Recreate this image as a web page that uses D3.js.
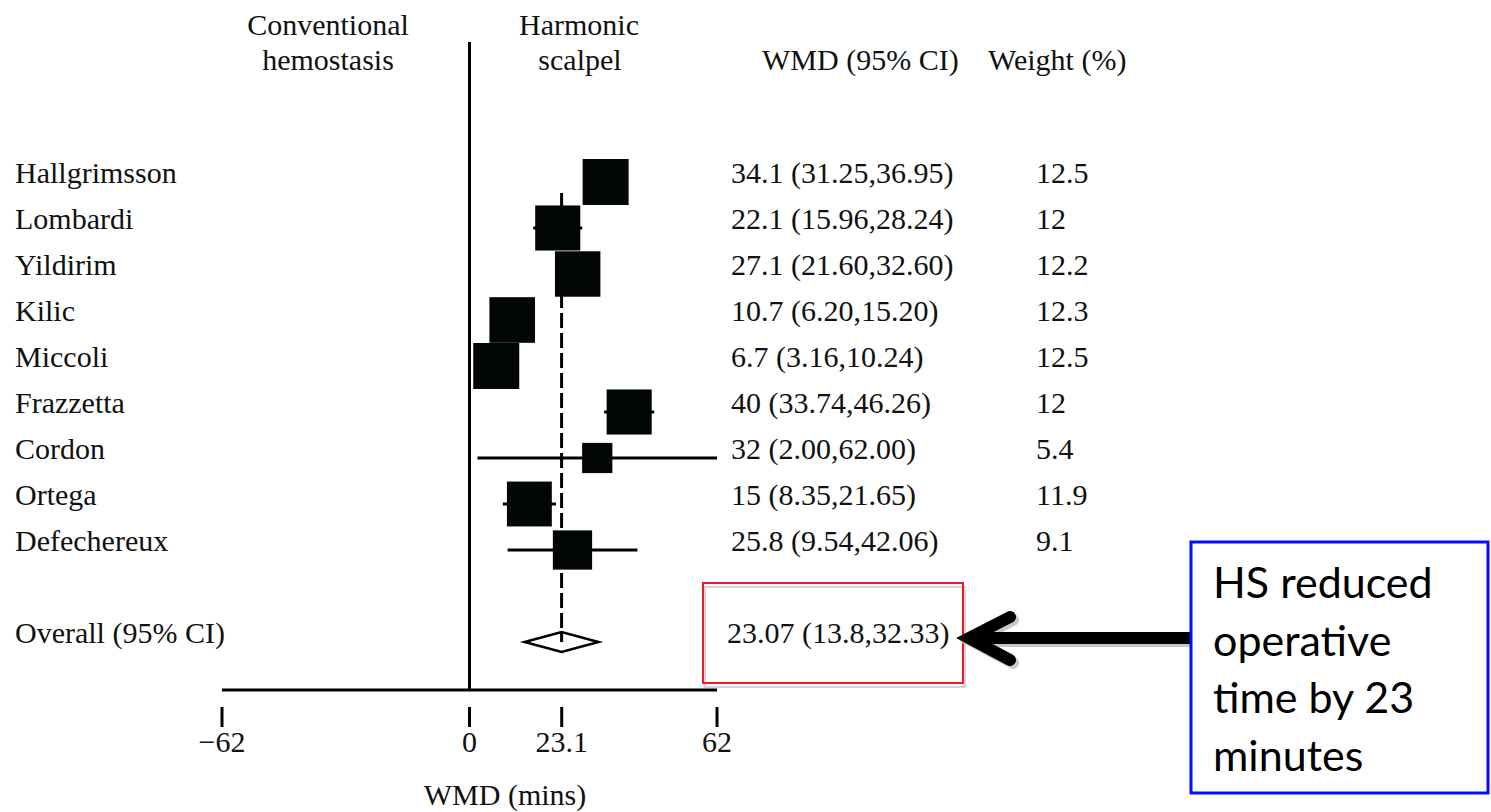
<!DOCTYPE html>
<html>
<head>
<meta charset="utf-8">
<script src="https://cdn.jsdelivr.net/npm/d3@7"></script>
<style>
  body { margin: 0; background: #fff; }
  svg { display: block; }
  .serif { font-family: "Liberation Serif", "DejaVu Serif", serif; fill: #111; }
</style>
</head>
<body>
<div id="chart"></div>
<script>
// study data
var studies = ["Hallgrimsson", "Lombardi", "Yildirim", "Kilic", "Miccoli", "Frazzetta", "Cordon", "Ortega", "Defechereux"];
var wmd = [34.1, 22.1, 27.1, 10.7, 6.7, 40, 32, 15, 25.8];
var lower = [31.25, 15.96, 21.60, 6.20, 3.16, 33.74, 2.00, 8.35, 9.54];
var upper = [36.95, 28.24, 32.60, 15.20, 10.24, 46.26, 62.00, 21.65, 42.06];
var weights = [12.5, 12, 12.2, 12.3, 12.5, 12, 5.4, 11.9, 9.1];
var overall = [23.07, 13.8, 32.33];
var tickValues = [-62, 0, 23.1, 62];
var tickLabels = ["\u221262", "0", "23.1", "62"];

function drawForestPlot(){
	var svgWidth = 1491;
	var svgHeight = 812;

	var svg = d3.select("#chart")
		.append("svg")
		.attr("width", svgWidth)
		.attr("height", svgHeight);

	//x scale: minutes, y scale: row index (row 10 = overall)
	var xScale = d3.scaleLinear()
		.domain([-62, 62])
		.range([222, 717]);

	var yScale = d3.scaleLinear()
		.domain([0, 10])
		.range([182, 642]);

	var sizeScale = d3.scaleSqrt()
		.domain([0, 12.5])
		.range([0, 46]);

	var rows = studies.map(function(s, i){
		return {name: s, est: wmd[i], lo: lower[i], hi: upper[i], w: weights[i], row: i};
	});

	//headers
	var headers = [
		{t: "Conventional", x: 328, y: 35, a: "middle"},
		{t: "hemostasis", x: 328, y: 70, a: "middle"},
		{t: "Harmonic", x: 579, y: 35, a: "middle"},
		{t: "scalpel", x: 580, y: 70, a: "middle"},
		{t: "WMD (95% CI)", x: 762, y: 70, a: "start"},
		{t: "Weight (%)", x: 988, y: 70, a: "start"}
	];
	svg.selectAll("text.header")
		.data(headers)
		.enter()
		.append("text")
		.attr("class", "header serif")
		.attr("x", function(d){ return d.x; })
		.attr("y", function(d){ return d.y; })
		.attr("text-anchor", function(d){ return d.a; })
		.style("font-size", "30px")
		.text(function(d){ return d.t; });

	//null line at 0
	svg.append("line")
		.attr("x1", xScale(0)).attr("x2", xScale(0))
		.attr("y1", 42).attr("y2", 690)
		.attr("stroke", "#000")
		.attr("stroke-width", 3);

	//overall diamond
	var yo = yScale(10);
	var diamond = [[xScale(overall[1]), yo], [xScale(overall[0]), yo - 10], [xScale(overall[2]), yo], [xScale(overall[0]), yo + 10]];
	svg.append("path")
		.attr("d", d3.line()(diamond) + "Z")
		.attr("fill", "#fff")
		.attr("stroke", "#000")
		.attr("stroke-width", 2.5);

	//dashed line at overall estimate
	svg.append("line")
		.attr("x1", xScale(overall[0])).attr("x2", xScale(overall[0]))
		.attr("y1", 193).attr("y2", yo)
		.attr("stroke", "#000")
		.attr("stroke-width", 3)
		.attr("stroke-dasharray", "15,5");

	//confidence interval lines
	svg.selectAll("line.ci")
		.data(rows)
		.enter()
		.append("line")
		.attr("class", "ci")
		.attr("x1", function(d){ return xScale(d.lo); })
		.attr("x2", function(d){ return xScale(d.hi); })
		.attr("y1", function(d){ return yScale(d.row); })
		.attr("y2", function(d){ return yScale(d.row); })
		.attr("stroke", "#000")
		.attr("stroke-width", 3);

	//weighted squares
	svg.selectAll("rect.square")
		.data(rows)
		.enter()
		.append("rect")
		.attr("class", "square")
		.attr("x", function(d){ return xScale(d.est) - sizeScale(d.w) / 2; })
		.attr("y", function(d){ return yScale(d.row) - sizeScale(d.w) / 2; })
		.attr("width", function(d){ return sizeScale(d.w); })
		.attr("height", function(d){ return sizeScale(d.w); })
		.attr("fill", "#030607");

	//study names
	svg.selectAll("text.study")
		.data(rows)
		.enter()
		.append("text")
		.attr("class", "study serif")
		.attr("x", 15)
		.attr("y", function(d){ return yScale(d.row) + 1; })
		.style("font-size", "30px")
		.text(function(d){ return d.name; });

	//WMD (95% CI) text
	svg.selectAll("text.ciText")
		.data(rows)
		.enter()
		.append("text")
		.attr("class", "ciText serif")
		.attr("x", 731)
		.attr("y", function(d){ return yScale(d.row) + 1; })
		.style("font-size", "30px")
		.text(function(d){ return d.est + " (" + d.lo.toFixed(2) + "," + d.hi.toFixed(2) + ")"; });

	//weights
	svg.selectAll("text.weight")
		.data(rows)
		.enter()
		.append("text")
		.attr("class", "weight serif")
		.attr("x", 1036)
		.attr("y", function(d){ return yScale(d.row) + 1; })
		.style("font-size", "30px")
		.text(function(d){ return d.w; });

	//overall row
	svg.append("text")
		.attr("class", "serif")
		.attr("x", 15)
		.attr("y", yo + 1)
		.style("font-size", "30px")
		.text("Overall (95% CI)");

	//red box with shadow
	svg.append("rect")
		.attr("x", 705).attr("y", 587)
		.attr("width", 260).attr("height", 100)
		.attr("fill", "none")
		.attr("stroke", "#d4d4d4")
		.attr("stroke-width", 2);
	svg.append("rect")
		.attr("x", 703).attr("y", 583)
		.attr("width", 260).attr("height", 100)
		.attr("fill", "none")
		.attr("stroke", "#ec1c24")
		.attr("stroke-width", 2);

	svg.append("text")
		.attr("class", "serif")
		.attr("x", 727)
		.attr("y", yo + 1)
		.style("font-size", "30px")
		.text(overall[0] + " (" + overall[1] + "," + overall[2] + ")");

	//x axis line
	svg.append("line")
		.attr("x1", xScale(-62)).attr("x2", xScale(62))
		.attr("y1", 690).attr("y2", 690)
		.attr("stroke", "#000")
		.attr("stroke-width", 3);

	//ticks, detached below the axis
	svg.selectAll("line.tick")
		.data(tickValues)
		.enter()
		.append("line")
		.attr("class", "tick")
		.attr("x1", function(d){ return xScale(d); })
		.attr("x2", function(d){ return xScale(d); })
		.attr("y1", 707).attr("y2", 727)
		.attr("stroke", "#000")
		.attr("stroke-width", 3);

	svg.selectAll("text.tickLabel")
		.data(tickValues)
		.enter()
		.append("text")
		.attr("class", "tickLabel serif")
		.attr("x", function(d){ return xScale(d); })
		.attr("y", 752)
		.attr("text-anchor", "middle")
		.style("font-size", "30px")
		.text(function(d, i){ return tickLabels[i]; });

	//x axis label
	svg.append("text")
		.attr("class", "serif")
		.attr("x", 505)
		.attr("y", 805)
		.attr("text-anchor", "middle")
		.style("font-size", "30px")
		.text("WMD (mins)");

	//arrow from the note box to the red box (shadow first)
	[{dx: 3, dy: 3, c: "#c8c8c8"}, {dx: 0, dy: 0, c: "#000"}].forEach(function(s){
		var g = svg.append("g").attr("transform", "translate(" + s.dx + "," + s.dy + ")");
		g.append("line")
			.attr("x1", 1190).attr("x2", 972)
			.attr("y1", 638).attr("y2", 638)
			.attr("stroke", s.c)
			.attr("stroke-width", 12);
		g.append("path")
			.attr("d", "M1010,617 L969,638 L1010,660")
			.attr("fill", "none")
			.attr("stroke", s.c)
			.attr("stroke-width", 12)
			.attr("stroke-linecap", "round")
			.attr("stroke-linejoin", "miter");
	});

	//note box
	svg.append("rect")
		.attr("x", 1191).attr("y", 542)
		.attr("width", 297).attr("height", 251)
		.attr("fill", "#fff")
		.attr("stroke", "#0010ff")
		.attr("stroke-width", 3);

	var note = ["HS reduced", "operative", "time by 23", "minutes"];
	svg.selectAll("text.note")
		.data(note)
		.enter()
		.append("text")
		.attr("class", "note")
		.attr("x", 1213)
		.attr("y", function(d, i){ return 598 + i * 57.5; })
		.style("font-family", "Lato, 'Open Sans', sans-serif")
		.style("font-size", "43px")
		.style("fill", "#000")
		.text(function(d){ return d; });
}

drawForestPlot();
</script>
</body>
</html>
